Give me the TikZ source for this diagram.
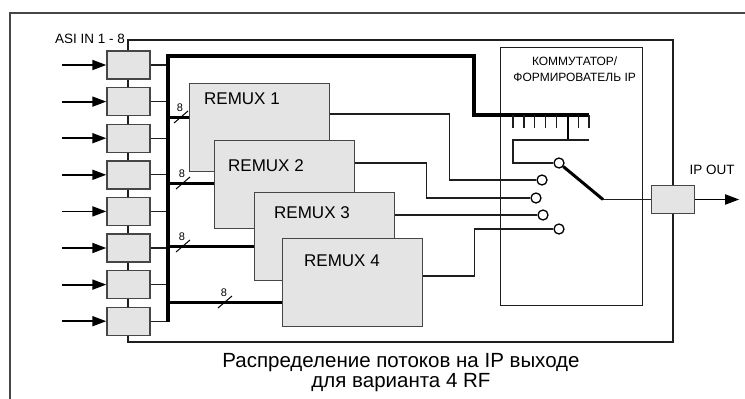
\documentclass[tikz,border=0pt]{standalone}
\usepackage{fontspec}
\setmainfont{Liberation Sans}
\usetikzlibrary{arrows.meta,positioning}
\definecolor{boxfill}{RGB}{228,228,228}
\definecolor{boxline}{RGB}{70,70,70}
\definecolor{inkline}{RGB}{30,30,30}
\tikzset{
	outline/.style={draw=boxline, line width=1.2pt},
	wire/.style={draw=inkline, line width=1.3pt},
	bus/.style={draw=black, line width=4pt, line join=miter},
	feed/.style={draw=black, line width=3pt},
	tap/.style={draw=black, line width=2.6pt},
	lever/.style={draw=black, line width=3pt},
	slash/.style={draw=black, line width=1pt},
	sig/.style={draw=black, line width=1.8pt, -{Triangle[length=14pt,width=10pt]}},
	inbox/.style={draw=boxline, fill=boxfill, line width=1.4pt, minimum width=43pt, minimum height=28pt, inner sep=0pt},
	remux/.style={draw=boxline, fill=boxfill, line width=1.4pt, minimum width=140pt, minimum height=88pt, anchor=north west, inner sep=0pt},
	switchbox/.style={draw=inkline, line width=1.3pt, minimum width=142pt, minimum height=258pt, anchor=north west, inner sep=0pt},
	remuxtext/.style={font=\fontsize{17}{20}\selectfont, inner sep=0pt},
	contact/.style={circle, draw=black, fill=white, line width=1.3pt, minimum size=10pt, inner sep=0pt},
	widthlabel/.style={font=\fontsize{11}{12}\selectfont, inner sep=0pt},
	smalltext/.style={font=\fontsize{12}{16}\selectfont, align=center, inner sep=0pt},
	portlabel/.style={font=\fontsize{13.5}{16}\selectfont, inner sep=0pt},
	captext/.style={font=\fontsize{20.5}{20}\selectfont, align=center, inner sep=0pt}
}
\begin{document}
\begin{tikzpicture}[x=1pt, y=-1pt]
	\useasboundingbox (0,0) rectangle (745,399);
	\draw[outline] (10,399) -- (10,13) -- (745,13);
	\draw[wire] (128,40) rectangle (673,342);
	\node[portlabel, anchor=east] (asi) at (125,39) {ASI IN 1 - 8};
	\node[switchbox] (sw) at (500,47) {};
	\node[smalltext, below=10pt of sw.north, xshift=3pt] (swlab) {КОММУТАТОР/\\ФОРМИРОВАТЕЛЬ IP};
	\coordinate (bustop) at (168,56);
	\coordinate (busbot) at (168,322);
	% inputs
	\foreach \i in {1,...,8}{
		\node[inbox] (in\i) at (128.5,28.4+36.6*\i) {};
		\coordinate[left=44pt of in\i.west] (src\i);
		\draw[sig] (src\i) -- (in\i.west);
		\draw[wire] (in\i.east) -- (in\i.east -| bustop);
	}
	\draw[bus] (busbot) -- (bustop) -- (474,56) -- (474,115) -- (589,115);
	% contacts
	\node[contact] (c0) at (559,163) {};
	\node[contact] (c1) at (542,180) {};
	\node[contact] (c2) at (536,198) {};
	\node[contact] (c3) at (543,215) {};
	\node[contact] (c4) at (559,229) {};
	% remux blocks
	\node[remux] (rmx1) at (189,83) {};
	\node[remuxtext, below right=10pt and 15pt of rmx1.north west] (rmxlab1) {REMUX 1};
	\node[remux] (rmx2) at (214,140) {};
	\node[remuxtext, below right=19pt and 14pt of rmx2.north west] (rmxlab2) {REMUX 2};
	\node[remux] (rmx3) at (254,192) {};
	\node[remuxtext, below right=14pt and 20pt of rmx3.north west] (rmxlab3) {REMUX 3};
	\node[remux] (rmx4) at (282,238) {};
	\node[remuxtext, below right=17pt and 22pt of rmx4.north west] (rmxlab4) {REMUX 4};
	\coordinate (f1) at ([yshift=-34pt]rmx1.north west);
	\coordinate (f2) at ([yshift=-43pt]rmx2.north west);
	\coordinate (f3) at ([yshift=-54pt]rmx3.north west);
	\coordinate (f4) at ([yshift=-64pt]rmx4.north west);
	\foreach \j/\d in {1/8pt,2/31pt,3/71pt,4/57pt}{
		\draw[feed] (f\j) -- (f\j -| bustop);
		\coordinate[left=\d of f\j] (m\j);
		\draw[slash] ([shift={(-7,6)}]m\j) -- ([shift={(7,-6)}]m\j);
		\node[widthlabel, above=5pt of m\j, xshift=-1pt] (w\j) {8};
	}
	\draw[wire] ([yshift=-31pt]rmx1.north east) -- ++(119,0) |- (c1);
	\draw[wire] ([yshift=-23pt]rmx2.north east) -- ++(71,0) |- (c2);
	\draw[wire] ([yshift=-23pt]rmx3.north east) -- (c3);
	\draw[wire] ([yshift=-38pt]rmx4.north east) -- ++(51,0) |- (c4);
	% switch
	\foreach \k in {0,...,7}
		\draw[wire] (513+10.86*\k,115) -- ++(0,13);
	\draw[tap] (568,115) -- (568,140);
	\coordinate (tapjoin) at (513,140);
	\draw[wire] (589,140) -- (tapjoin) |- (c0);
	\coordinate (pivot) at (603,199.5);
	\node[inbox] (ipout) at (673,199.5) {};
	\draw[lever] (c0) -- (pivot);
	\draw[wire] (pivot) -- (ipout);
	\coordinate[right=44pt of ipout.east] (dst);
	\draw[sig] (ipout.east) -- (dst);
	\node[portlabel] (iplab) at (712,170) {IP OUT};
	\node[captext] (cap) at (401,373) {Распределение потоков на IP выходе\\для варианта 4 RF};
\end{tikzpicture}
\end{document}
